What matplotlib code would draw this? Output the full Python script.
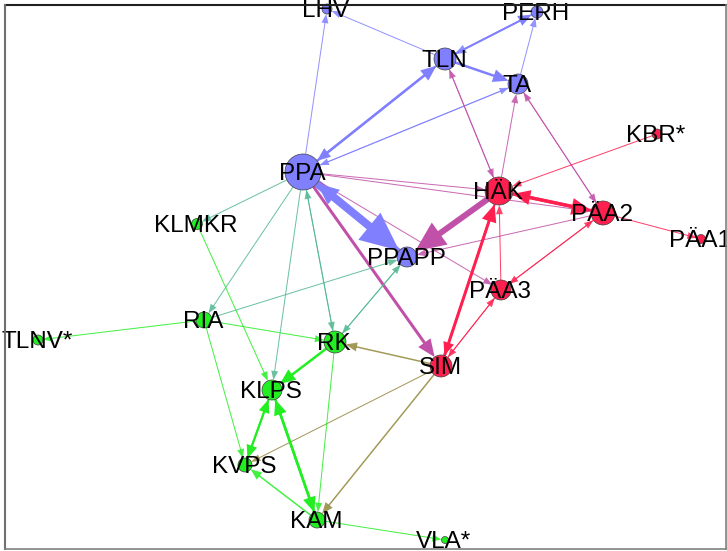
import numpy as np
import matplotlib
matplotlib.use("Agg")
import matplotlib.pyplot as plt
from matplotlib.colors import to_rgb

# Nodes: name, position (px), radius (px), group
names = ["LHV", "PERH", "TLN", "TA", "PPA", "HÄK", "KBR*", "PÄA2", "PÄA1",
         "PPAPP", "PÄA3", "KLMKR", "RIA", "TLNV*", "RK", "SIM", "KLPS",
         "KVPS", "KAM", "VLA*"]
node_x = [327, 537, 445, 518, 303, 499, 657, 603, 701,
          407, 501, 197, 204, 38, 335, 441, 272, 245, 317, 445]
node_y = [9, 12, 59, 84, 172, 191, 134, 213, 239,
          257, 290, 224, 320, 340, 342, 366, 390, 465, 520, 540]
node_r = [5, 6, 11, 10, 18, 14, 5, 12, 4.5,
          10, 10, 5.5, 8, 5, 11, 11, 10, 7, 8, 3.5]
groups = ["b", "b", "b", "b", "b", "r", "r", "r", "r",
          "b", "r", "g", "g", "g", "g", "r", "g", "g", "g", "g"]

group_colors = {"b": "#8080ff", "r": "#ff2050", "g": "#22ee22"}

# Directed ties: source, target, width (px)
edge_src = ["TLN", "PPA", "PPA", "TLN", "TLN", "PERH", "TLN", "TA", "PPA", "TA",
            "PPA", "PPAPP",
            "TLN", "HÄK", "HÄK", "PÄA2", "TA", "PPA", "PPA", "HÄK", "PÄA2",
            "PPA", "PPA",
            "HÄK", "PÄA2", "KBR*", "PÄA2", "PÄA2", "PÄA3", "PÄA3", "SIM",
            "HÄK", "SIM", "PÄA3",
            "SIM", "SIM", "SIM",
            "PPA", "PPA", "PPA", "PPA", "RK", "RIA", "RK", "PPAPP",
            "KLMKR", "RIA", "RIA", "RIA", "RK", "KLPS", "KVPS", "KLPS", "KAM",
            "RK", "KAM", "KAM"]
edge_dst = ["LHV", "LHV", "TLN", "PPA", "PERH", "TLN", "TA", "PERH", "TA", "PPA",
            "PPAPP", "PPA",
            "HÄK", "TLN", "TA", "TA", "PÄA2", "HÄK", "PÄA2", "PPAPP", "PPAPP",
            "PÄA3", "SIM",
            "PÄA2", "HÄK", "HÄK", "PÄA1", "PÄA3", "PÄA2", "HÄK", "HÄK",
            "SIM", "PÄA3", "SIM",
            "RK", "KVPS", "KAM",
            "KLMKR", "RIA", "KLPS", "RK", "PPA", "PPAPP", "PPAPP", "RK",
            "KLPS", "RK", "TLNV*", "KVPS", "KLPS", "KVPS", "KLPS", "KAM", "KLPS",
            "KAM", "KVPS", "VLA*"]
edge_w = [1, 1, 2.5, 2, 2, 1.5, 2.5, 1, 1, 1,
          8, 4,
          1, 1, 1, 1, 1, 1, 1, 6, 1,
          1, 3,
          3.5, 3, 1, 1, 1, 1, 1, 3,
          2, 1, 1,
          1.5, 1, 1.5,
          1, 1, 1, 1, 1, 1, 1, 1,
          1, 1, 1, 1, 2.5, 2, 2, 2.5, 2.5,
          1, 1.5, 1]

W, H = 727, 551
DPI = 100
PT = 72.0 / DPI  # points per pixel

fig = plt.figure(figsize=(W / DPI, H / DPI), dpi=DPI)
ax = fig.add_axes([0, 0, 1, 1])
ax.set_xlim(0, W)
ax.set_ylim(H, 0)
ax.axis("off")

idx = {n: i for i, n in enumerate(names)}
pos = np.column_stack([node_x, node_y]).astype(float)


def node_color(n):
    return np.array(to_rgb(group_colors[groups[idx[n]]]))


# Edges: straight shaft plus filled triangular head, coloured as the
# blend of the two endpoint groups
for s, t, w in zip(edge_src, edge_dst, edge_w):
    p0, p1 = pos[idx[s]], pos[idx[t]]
    d = p1 - p0
    L = np.hypot(*d)
    u = d / L
    nvec = np.array([-u[1], u[0]])
    a = p0 + u * node_r[idx[s]]
    tip = p1 - u * node_r[idx[t]]
    hl = 5 + 4.2 * w
    hw = 3 + 4.0 * w
    base = tip - u * hl
    col = (node_color(s) + node_color(t)) / 2
    alpha = 0.85 if w < 2 else 1.0
    ax.plot([a[0], base[0] + u[0] * 1.0], [a[1], base[1] + u[1] * 1.0],
            color=col, lw=max(w * PT, 0.7), alpha=alpha,
            solid_capstyle="butt", zorder=1)
    tri = np.array([tip, base + nvec * hw / 2, base - nvec * hw / 2])
    ax.fill(tri[:, 0], tri[:, 1], color=col, alpha=alpha, lw=0, zorder=2)

# Nodes
for i, n in enumerate(names):
    c = plt.Circle((node_x[i], node_y[i]), node_r[i],
                   facecolor=group_colors[groups[i]], edgecolor="#404040",
                   lw=0.5, zorder=3)
    ax.add_patch(c)

# Labels
for i, n in enumerate(names):
    ax.text(node_x[i] - 1, node_y[i] + 2, n, ha="center", va="center",
            fontsize=17.5, family=["Liberation Sans", "DejaVu Sans"],
            color="black", zorder=4)

# Frame
ax.plot([5, 726], [5, 5], color="#202020", lw=1.5, zorder=5)
ax.plot([5, 5], [5, 549], color="#707070", lw=1.5, zorder=5)
ax.plot([726, 726], [5, 549], color="#808080", lw=1.2, zorder=5)
ax.plot([5, 726], [549, 549], color="#808080", lw=1.2, zorder=5)

fig.savefig("out.png", dpi=DPI)
